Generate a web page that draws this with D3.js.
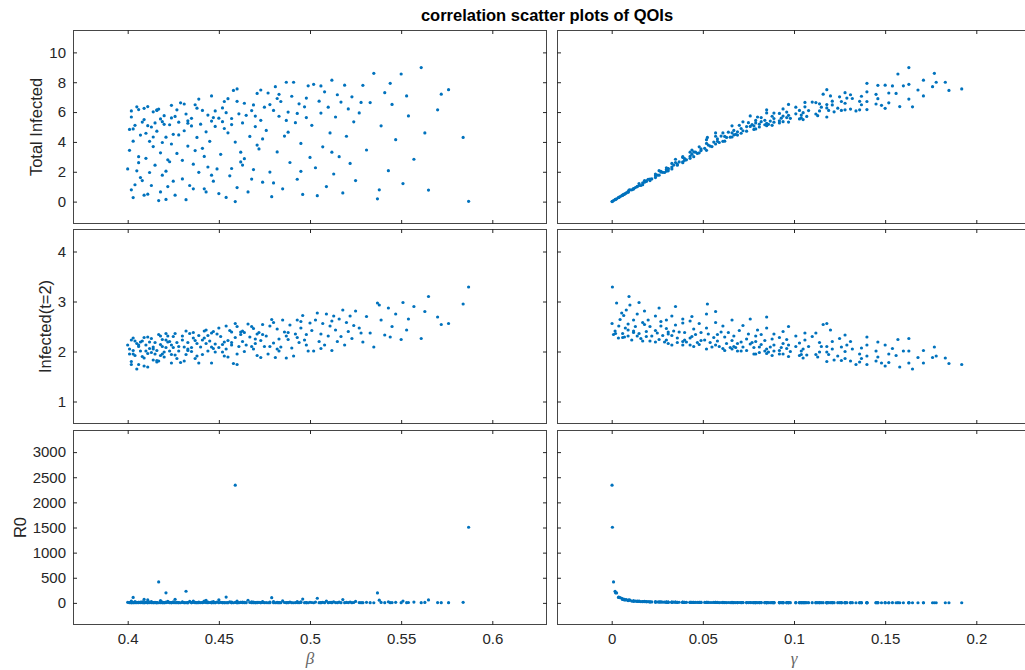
<!DOCTYPE html>
<html>
<head>
<meta charset="utf-8">
<script src="https://cdn.jsdelivr.net/npm/d3@7"></script>
<style>
  body { margin: 0; background: #fff; }
  svg { display: block; font-family: "Liberation Sans", Arial, Helvetica, sans-serif; }
</style>
</head>
<body>
<svg id="chart" width="1025" height="670"></svg>
<script>
// samples: one entry per model run (beta, gamma) and its three QOIs
var beta = [
  .401,.402,.403,.404,.405,.406,.407,.408,.409,.410,
  .411,.411,.412,.413,.413,.414,.415,.416,.417,.417,
  .418,.419,.419,.420,.421,.421,.422,.423,.423,.424,
  .424,.425,.400,.401,.402,.403,.404,.405,.406,.408,
  .409,.410,.412,.414,.416,.418,.420,.422,.424,.425,
  .407,.415,.419,.402,.411,.426,.427,.428,.429,.430,
  .431,.432,.432,.433,.434,.435,.436,.437,.438,.439,
  .440,.441,.442,.443,.444,.445,.446,.447,.448,.449,
  .450,.450,.426,.428,.430,.433,.436,.438,.441,.443,
  .446,.448,.431,.435,.439,.444,.447,.451,.452,.453,
  .454,.455,.456,.457,.458,.459,.459,.460,.460,.461,
  .462,.463,.464,.466,.467,.468,.469,.470,.471,.472,
  .473,.474,.475,.452,.455,.457,.460,.462,.465,.468,
  .470,.473,.454,.464,.471,.476,.477,.478,.479,.480,
  .481,.482,.483,.484,.485,.486,.487,.488,.489,.490,
  .491,.492,.493,.494,.495,.496,.497,.498,.499,.500,
  .478,.483,.488,.493,.498,.480,.501,.502,.503,.504,
  .505,.506,.507,.508,.509,.510,.511,.512,.513,.514,
  .515,.516,.517,.518,.519,.520,.521,.522,.523,.524,
  .525,.527,.529,.531,.533,.535,.537,.539,.541,.543,
  .545,.547,.550,.551,.553,.554,.557,.561,.563,.565,
  .570,.572,.576,.584,.587,.403,.406,.409,.414,.418,
  .421,.427,.433,.437,.442,.446,.453,.457,.463,.469,
  .474,.482,.487,.495,.506,.512,.528,.538,.544,.416
];
var gamma = [
  .052,.011,.0037,.088,.031,.140,.069,.021,.105,.043,
  .158,.007,.061,.081,.016,.122,.036,.074,.001,.131,
  .048,.094,.026,.113,.0021,.065,.014,.084,.039,.148,
  .057,.019,.033,.078,.118,.062,.017,.165,.045,.097,
  .006,.071,.029,.055,.126,.009,.086,.041,.104,.068,
  .024,.092,.059,.134,.085,.006,.047,.089,.152,.022,
  .072,.00186,.112,.054,.015,.098,.036,.137,.063,.028,
  .081,.119,.043,.009,.104,.058,.171,.019,.076,.031,
  .0075,.093,.107,.067,.040,.085,.012,.124,.051,.069,
  .025,.114,.145,.078,.163,.033,.096,.044,.118,.071,
  .0039,.146,.024,.089,.185,.000196,.056,.013,.192,.101,
  .037,.079,.128,.009,.062,.108,.030,.094,.156,.049,
  .084,.018,.115,.082,.066,.031,.136,.046,.097,.021,
  .074,.168,.105,.040,.053,.067,.152,.027,.0046,.103,
  .176,.045,.088,.126,.012,.060,.183,.096,.035,.137,
  .178,.075,.020,.114,.052,.0066,.106,.082,.160,.039,
  .118,.145,.064,.092,.129,.017,.070,.163,.030,.0055,
  .121,.089,.048,.140,.014,.101,.061,.171,.024,.080,
  .131,.039,.110,.008,.150,.057,.094,.033,.125,.072,
  .018,.085,.146,.044,.112,.177,.0027,.066,.128,.026,
  .097,.052,.157,.015,.120,.076,.035,.163,.057,.0095,
  .085,.116,.118,.0525,.00039,.079,.039,.150,.066,.103,
  .030,.128,.092,.049,.012,.087,.140,.077,.034,.121,
  .058,.132,.079,.027,.154,.043,.106,.010,.140,.136
];
var totalInfected = [
  3.44,0.79,0.27,5.11,2.06,6.17,4.46,1.41,5.50,2.90,
  6.37,0.50,4.04,5.00,1.08,6.02,2.44,4.72,0.07,6.20,
  3.27,5.36,1.77,5.76,0.15,4.32,1.01,5.15,2.67,6.45,
  3.86,1.37,2.19,4.84,5.67,4.05,1.13,6.35,3.01,5.33,
  0.43,4.58,1.95,3.69,6.11,0.65,5.18,2.80,5.61,4.51,
  1.61,5.27,3.96,6.08,5.09,0.43,3.23,5.32,6.62,1.52,
  4.75,0.13,5.87,3.72,1.08,5.58,2.51,6.49,4.30,1.96,
  5.19,6.11,3.03,0.65,5.80,4.04,7.08,1.37,5.04,2.19,
  0.54,5.59,5.71,4.47,2.77,5.25,0.86,6.26,3.57,4.68,
  1.77,6.08,6.54,5.07,6.87,2.32,5.63,3.17,6.28,4.90,
  0.28,6.90,1.73,5.57,7.45,0.00,3.99,0.94,7.55,5.88,
  2.66,5.27,6.59,0.65,4.37,6.10,2.15,5.73,7.25,3.53,
  5.45,1.30,6.33,5.36,4.61,2.22,6.72,3.31,5.78,1.51,
  5.03,7.48,5.96,2.88,3.79,4.77,7.28,1.98,0.33,6.11,
  7.70,3.33,5.72,6.71,0.86,4.39,8.00,6.00,2.62,7.06,
  8.00,5.29,1.50,6.55,3.90,0.48,6.35,5.63,7.76,2.96,
  6.50,7.19,4.65,5.91,6.94,1.25,5.11,7.86,2.27,0.40,
  6.73,5.93,3.67,7.36,1.01,6.33,4.60,8.14,1.85,5.67,
  7.16,3.01,6.67,0.58,7.80,4.38,6.21,2.56,7.02,5.35,
  1.41,5.94,7.79,3.46,6.64,8.60,0.19,5.08,7.30,2.07,
  6.51,4.15,8.55,1.21,7.08,5.74,2.84,8.98,4.60,0.77,
  6.15,7.20,7.50,4.30,0.02,4.87,2.61,6.25,4.33,5.54,
  2.04,6.15,5.42,3.42,0.86,5.40,6.71,5.16,2.45,6.48,
  4.20,6.91,5.44,2.03,7.75,3.31,6.65,0.79,7.93,6.15
];
var infectedT2 = [
  2.05,2.23,2.27,1.92,2.16,1.74,2.01,2.21,1.87,2.13,
  1.69,2.29,2.06,1.98,2.26,1.83,2.18,2.02,2.34,1.81,
  2.14,1.95,2.24,1.89,2.36,2.08,2.31,2.01,2.20,1.77,
  2.13,2.30,2.13,1.95,1.80,2.02,2.21,1.65,2.10,1.90,
  2.28,2.01,2.19,2.09,1.82,2.31,1.99,2.19,1.94,2.08,
  2.19,1.95,2.10,1.74,1.96,2.36,2.18,2.01,1.78,2.31,
  2.09,2.41,1.94,2.18,2.36,2.00,2.27,1.86,2.16,2.32,
  2.09,1.94,2.27,2.43,2.01,2.21,1.77,2.40,2.15,2.35,
  2.47,2.08,1.93,2.10,2.23,2.05,2.38,1.91,2.23,2.16,
  2.37,1.99,1.81,2.08,1.77,2.32,2.06,2.30,1.99,2.19,
  2.51,1.89,2.42,2.13,1.76,2.56,2.28,2.50,1.74,2.10,
  2.39,2.20,2.00,2.55,2.29,2.10,2.46,2.16,1.92,2.38,
  2.22,2.54,2.10,2.14,2.22,2.39,1.95,2.34,2.13,2.50,
  2.25,1.88,2.05,2.38,2.35,2.31,1.95,2.51,2.64,2.17,
  1.88,2.45,2.25,2.09,2.63,2.39,1.87,2.24,2.53,2.07,
  1.91,2.35,2.63,2.18,2.47,2.72,2.23,2.34,2.01,2.57,
  2.10,2.01,2.38,2.28,2.13,2.58,2.42,2.01,2.63,2.77,
  2.20,2.35,2.56,2.13,2.75,2.31,2.51,2.02,2.71,2.43,
  2.20,2.65,2.30,2.83,2.13,2.58,2.40,2.71,2.26,2.52,
  2.81,2.47,2.19,2.70,2.37,2.09,2.97,2.63,2.33,2.87,
  2.50,2.75,2.24,2.98,2.43,2.65,2.90,2.26,2.80,3.10,
  2.69,2.54,2.56,2.95,3.29,1.95,2.13,1.71,2.05,1.92,
  2.23,1.86,2.02,2.22,2.41,2.09,1.91,2.18,2.41,2.05,
  2.34,2.05,2.31,2.60,2.06,2.61,2.37,2.93,2.29,1.79
];
var r0 = [
  7.7,36.5,109,4.6,13.1,2.9,5.9,19.4,3.9,9.5,
  2.6,58.7,6.75,5.1,25.8,3.4,11.5,5.6,417,3.2,
  8.7,4.5,16.1,3.7,200,6.5,30,5.0,10.8,2.9,
  7.4,22.4,12.1,5.1,3.4,6.5,23.8,2.5,9.0,4.2,
  68,5.8,14.2,7.5,3.3,46,4.9,10.3,4.1,6.25,
  17,4.5,7.1,3.0,4.8,71,9.1,4.8,2.8,19.5,
  6.0,232,3.9,8.0,28.9,4.4,12.1,3.2,7.0,15.7,
  5.4,3.7,10.3,49,4.3,7.7,2.6,23.5,5.9,14.5,
  60,4.8,4.0,6.4,10.75,5.1,36,3.5,8.6,6.4,
  17.8,3.9,3.0,5.6,2.7,13.5,4.7,10.3,3.8,6.4,
  116,3.1,19,5.1,2.5,2342,8.2,35,2.4,4.6,
  12.5,5.9,3.6,52,7.5,4.3,15.6,5.0,3.0,9.6,
  5.6,26,4.1,5.5,6.9,14.7,3.4,10,4.8,22,
  6.4,2.8,4.3,11.6,8.9,7.1,3.1,17.7,104,4.7,
  2.7,10.7,5.5,3.8,40,8.1,2.7,5.1,14,3.6,
  2.8,6.6,24.7,4.3,9.5,75,4.7,6.1,3.1,12.8,
  4.1,3.3,7.6,5.4,3.9,28,7.2,3.1,16.8,92,
  4.2,5.7,10.6,3.6,36,5.0,8.4,3.0,21,6.4,
  3.9,13.2,4.7,65,3.5,9.1,5.5,15.8,4.2,7.3,
  29,6.2,3.6,12,4.8,3.0,199,8.2,4.2,21,
  5.6,10.5,3.5,36.7,4.6,7.3,16,3.4,9.9,59,
  6.7,4.9,4.9,11.1,1505,5.1,10.4,2.7,6.3,4.1,
  14,3.3,4.7,8.9,36.8,5.1,3.2,5.9,13.6,3.9,
  8.2,3.65,6.2,18.3,3.3,11.9,5.0,53.8,3.9,3.1
];

// tick values and labels
var betaTicks = [0.4, 0.45, 0.5, 0.55, 0.6];
var gammaTicks = [0, 0.05, 0.1, 0.15, 0.2];
var totalTicks = [0, 2, 4, 6, 8, 10];
var infTicks = [1, 2, 3, 4];
var r0Ticks = [0, 500, 1000, 1500, 2000, 2500, 3000];
var rowLabels = ["Total Infected", "Infected(t=2)", "R0"];
var colLabels = ["\u03b2", "\u03b3"];
var title = "correlation scatter plots of QOIs";

(function () {
    "use strict";
    var svg = d3.select("#chart"),
        ink = "#262626",
        dotColor = "#0072bd",
        tick = 4;

    var cols = [
        { values: beta, domain: [0.37, 0.63], ticks: betaTicks, label: colLabels[0], x0: 73, x1: 547 },
        { values: gamma, domain: [-0.03, 0.23], ticks: gammaTicks, label: colLabels[1], x0: 557, x1: 1031 }
    ];
    var rows = [
        { values: totalInfected, domain: [-1.5, 11.5], ticks: totalTicks, label: rowLabels[0], y0: 30, y1: 224 },
        { values: infectedT2, domain: [0.55, 4.45], ticks: infTicks, label: rowLabels[1], y0: 229, y1: 424 },
        { values: r0, domain: [-440, 3440], ticks: r0Ticks, label: rowLabels[2], y0: 430, y1: 625 }
    ];

    function styleAxis(g) {
        g.select(".domain").remove();
        g.attr("font-size", 15).attr("font-family", null).attr("color", ink);
        g.selectAll(".tick line").attr("stroke-width", 1);
    }

    rows.forEach(function (row, ri) {
        cols.forEach(function (col, ci) {
            var x = d3.scaleLinear().domain(col.domain).range([col.x0, col.x1]),
                y = d3.scaleLinear().domain(row.domain).range([row.y1, row.y0]),
                g = svg.append("g").attr("class", "panel");

            var showX = ri === rows.length - 1,
                showY = ci === 0;

            g.append("g")
                .attr("transform", "translate(0," + row.y1 + ")")
                .call(d3.axisBottom(x).tickValues(col.ticks).tickSizeInner(-tick)
                    .tickSizeOuter(0).tickPadding(8)
                    .tickFormat(showX ? function (d) { return String(d); } : ""))
                .call(styleAxis);

            g.append("g")
                .attr("transform", "translate(0," + row.y0 + ")")
                .call(d3.axisTop(x).tickValues(col.ticks).tickSizeInner(-tick)
                    .tickSizeOuter(0).tickFormat(""))
                .call(styleAxis);

            var left = g.append("g")
                .attr("transform", "translate(" + col.x0 + ",0)")
                .call(d3.axisLeft(y).tickValues(row.ticks).tickSizeInner(-tick)
                    .tickSizeOuter(0).tickPadding(7)
                    .tickFormat(showY ? function (d) { return String(d); } : ""))
                .call(styleAxis);

            g.append("g")
                .attr("transform", "translate(" + col.x1 + ",0)")
                .call(d3.axisRight(y).tickValues(row.ticks).tickSizeInner(-tick)
                    .tickSizeOuter(0).tickFormat(""))
                .call(styleAxis);

            // box
            g.append("rect")
                .attr("x", col.x0 + 0.5).attr("y", row.y0 + 0.5)
                .attr("width", col.x1 - col.x0 - 1).attr("height", row.y1 - row.y0 - 1)
                .attr("fill", "none").attr("stroke", ink).attr("stroke-opacity", 0.85);

            g.append("g").selectAll("circle")
                .data(d3.range(col.values.length))
              .enter()
                .append("circle")
                .attr("cx", function (i) { return x(col.values[i]); })
                .attr("cy", function (i) { return y(row.values[i]); })
                .attr("r", 1.6)
                .attr("fill", dotColor);

            if (showY) {
                // place the label just left of the widest tick label
                var minX = col.x0;
                left.selectAll(".tick text").each(function () {
                    var b = this.getBBox();
                    minX = Math.min(minX, col.x0 + b.x);
                });
                svg.append("text")
                    .attr("transform", "translate(" + (minX - 7) + "," + ((row.y0 + row.y1) / 2) + ") rotate(-90)")
                    .attr("text-anchor", "middle")
                    .attr("font-size", 16.5)
                    .attr("fill", ink)
                    .text(row.label);
            }

            if (showX) {
                svg.append("text")
                    .attr("x", (col.x0 + col.x1) / 2)
                    .attr("y", 664)
                    .attr("text-anchor", "middle")
                    .attr("font-family", "'Liberation Serif', 'DejaVu Serif', serif")
                    .attr("font-style", "italic")
                    .attr("font-size", 17)
                    .attr("fill", "#666")
                    .text(col.label);
            }
        });
    });

    svg.append("text")
        .attr("x", 547)
        .attr("y", 21)
        .attr("text-anchor", "middle")
        .attr("font-size", 16.5)
        .attr("font-weight", "bold")
        .attr("fill", "#000")
        .text(title);
})();
</script>
</body>
</html>
